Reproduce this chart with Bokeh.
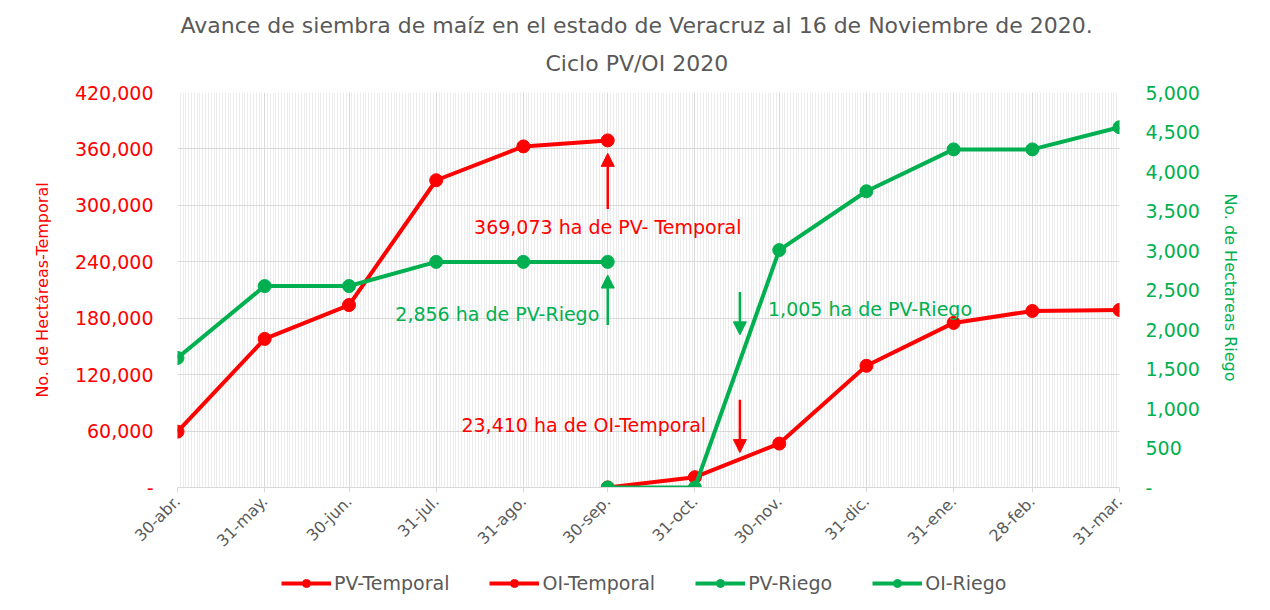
import numpy as np
import pandas as pd
from bokeh.plotting import figure
from bokeh.layouts import column
from bokeh.models import (Range1d, LinearAxis, FixedTicker, Legend, LegendItem,
                          Arrow, NormalHead, Label, Title, NumeralTickFormatter)
from bokeh.embed import file_html
from bokeh.resources import INLINE

# ---------------- data ----------------
dates = ["2020-04-30", "2020-05-31", "2020-06-30", "2020-07-31", "2020-08-31", "2020-09-30",
         "2020-10-31", "2020-11-30", "2020-12-31", "2021-01-31", "2021-02-28", "2021-03-31"]
tick_labels = ["30-abr.", "31-may.", "30-jun.", "31-jul.", "31-ago.", "30-sep.",
               "31-oct.", "30-nov.", "31-dic.", "31-ene.", "28-feb.", "31-mar."]
pv_temporal = [59400, 158000, 194000, 326700, 362700, 369073,
               None, None, None, None, None, None]
oi_temporal = [None, None, None, None, None, 0,
               11000, 46700, 129400, 175000, 187700, 188800]
pv_riego = [1640, 2550, 2550, 2856, 2856, 2856,
            None, None, None, None, None, None]
oi_riego = [None, None, None, None, None, 0,
            0, 3005, 3750, 4280, 4280, 4560]

left_ticks = [0, 60000, 120000, 180000, 240000, 300000, 360000, 420000]
right_ticks = [0, 500, 1000, 1500, 2000, 2500, 3000, 3500, 4000, 4500, 5000]

# annotations: text, date, y on left axis, align, color
ann_texts = ["369,073 ha de PV- Temporal", "2,856 ha de PV-Riego",
             "23,410 ha de OI-Temporal", "1,005 ha de PV-Riego"]
ann_dates = ["2020-09-30", "2020-09-27", "2020-11-04", "2020-11-26"]
ann_y = [276800, 184500, 66800, 190000]
ann_align = ["center", "right", "right", "left"]
ann_colors = ["#FF0000", "#00B050", "#FF0000", "#00B050"]
# arrows: date, y start, y end (left axis units)
arr_dates = ["2020-09-30", "2020-09-30", "2020-11-16", "2020-11-16"]
arr_y0 = [296000, 172900, 93300, 207900]
arr_y1 = [355300, 225900, 37100, 162300]
arr_colors = ["#FF0000", "#00B050", "#FF0000", "#00B050"]

series_names = ["PV-Temporal", "OI-Temporal", "PV-Riego", "OI-Riego"]

RED = "#FF0000"
GREEN = "#00B050"
GRAY = "#595959"
FONT = "DejaVu Sans"

start = pd.Timestamp(dates[0])
def day(d):
    return float((pd.Timestamp(d) - start).days)

xs = np.array([day(d) for d in dates])
last = xs[-1]

def arr(v):
    return np.array([np.nan if a is None else a for a in v], dtype=float)

W = 1262
p = figure(width=W, height=560, x_range=Range1d(0, last), y_range=Range1d(0, 420000),
           output_backend="svg", toolbar_location=None, title=None,
           min_border_left=177, min_border_right=143, min_border_top=92, min_border_bottom=72,
           outline_line_color=None, background_fill_color="white", border_fill_color="white")
p.extra_y_ranges = {"riego": Range1d(0, 5000)}

# x axis
p.xaxis.ticker = FixedTicker(ticks=[float(x) for x in xs],
                             minor_ticks=[float(i) for i in range(0, int(last) + 1)])
p.xaxis.major_label_overrides = {int(x): lab for x, lab in zip(xs, tick_labels)}
p.xaxis.major_label_orientation = np.pi / 4
p.xaxis.major_label_text_font = FONT
p.xaxis.major_label_text_font_size = "16px"
p.xaxis.major_label_text_color = GRAY
p.xaxis.axis_line_color = "#d9d9d9"
p.xaxis.major_tick_line_color = "#d9d9d9"
p.xaxis.major_tick_in = 0
p.xaxis.major_tick_out = 5
p.xaxis.minor_tick_line_color = None
p.xaxis.major_label_standoff = 6

# left axis
yl = p.yaxis[0]
yl.ticker = FixedTicker(ticks=left_ticks)
yl.formatter = NumeralTickFormatter(format="0,0")
yl.major_label_overrides = {0: "-"}
yl.axis_line_color = None
yl.major_tick_line_color = None
yl.minor_tick_line_color = None
yl.major_label_text_color = RED
yl.major_label_text_font = FONT
yl.major_label_text_font_size = "19px"
yl.major_label_standoff = 18
yl.axis_label = "No. de Hectáreas-Temporal"
yl.axis_label_text_color = RED
yl.axis_label_text_font = FONT
yl.axis_label_text_font_size = "16px"
yl.axis_label_text_font_style = "normal"
yl.axis_label_standoff = 20

# right axis
yr = LinearAxis(y_range_name="riego", ticker=FixedTicker(ticks=right_ticks),
                formatter=NumeralTickFormatter(format="0,0"))
yr.major_label_overrides = {0: "-"}
yr.axis_line_color = None
yr.major_tick_line_color = None
yr.minor_tick_line_color = None
yr.major_label_text_color = GREEN
yr.major_label_text_font = FONT
yr.major_label_text_font_size = "19px"
yr.major_label_standoff = 20
yr.axis_label = "No. de  Hectareas Riego"
yr.axis_label_text_color = GREEN
yr.axis_label_text_font = FONT
yr.axis_label_text_font_size = "16px"
yr.axis_label_text_font_style = "normal"
yr.axis_label_standoff = 18
p.add_layout(yr, "right")

# grids
p.ygrid.ticker = FixedTicker(ticks=left_ticks)
p.ygrid.grid_line_color = "#d9d9d9"
p.xgrid.grid_line_color = "#d9d9d9"
p.xgrid.minor_grid_line_color = "#ececec"

# series
series = [pv_temporal, oi_temporal, pv_riego, oi_riego]
colors = [RED, RED, GREEN, GREEN]
ranges = ["default", "default", "riego", "riego"]
for vals, color, rng in zip(series, colors, ranges):
    y = arr(vals)
    p.line(xs, y, line_color=color, line_width=4, y_range_name=rng)
    p.scatter(xs, y, size=13, fill_color=color, line_color=color, y_range_name=rng)

# annotations
for t, d, yv, al, c in zip(ann_texts, ann_dates, ann_y, ann_align, ann_colors):
    p.add_layout(Label(x=day(d), y=yv, text=t, text_align=al, text_baseline="middle",
                       text_color=c, text_font=FONT, text_font_size="19px"))
for d, y0, y1, c in zip(arr_dates, arr_y0, arr_y1, arr_colors):
    p.add_layout(Arrow(x_start=day(d), y_start=y0, x_end=day(d), y_end=y1,
                       line_color=c, line_width=2.5,
                       end=NormalHead(size=13, fill_color=c, line_color=c)))

t2 = Title(text="Ciclo PV/OI 2020", align="left", text_font=FONT, text_font_size="22px",
           text_color=GRAY, text_font_style="normal", standoff=34, offset=368)
p.add_layout(t2, "above")
t1 = Title(text="Avance de siembra de maíz en el estado de Veracruz al 16 de Noviembre de 2020.",
           align="left", text_font=FONT, text_font_size="22px", text_color=GRAY,
           text_font_style="normal", standoff=-12, offset=3)
p.add_layout(t1, "above")

# ---------------- legend strip ----------------
# same series drawn in a strip whose y-range lies below all values, so only the legend shows
lf = figure(width=W, height=42, output_backend="svg", toolbar_location=None,
            x_range=Range1d(0, last), y_range=Range1d(-2, -1),
            x_axis_location=None, y_axis_location=None,
            min_border_left=177, min_border_right=143, min_border_top=0, min_border_bottom=0,
            outline_line_color=None, background_fill_color="white", border_fill_color="white")
lf.grid.visible = False
items = []
for name, vals, color in zip(series_names, series, colors):
    y = arr(vals)
    l = lf.line(xs, y, line_color=color, line_width=4)
    s = lf.scatter(xs, y, size=9, fill_color=color, line_color=color)
    items.append(LegendItem(label=name, renderers=[l, s]))
legend = Legend(items=items, orientation="horizontal", location=(104, 8),
                border_line_color=None, background_fill_alpha=0,
                label_text_font=FONT, label_text_font_size="19px", label_text_color=GRAY,
                glyph_width=50, label_standoff=3, spacing=40, padding=2, margin=0)
lf.add_layout(legend, "center")

open("out.html", "w").write(file_html(column(p, lf, spacing=0), INLINE))
